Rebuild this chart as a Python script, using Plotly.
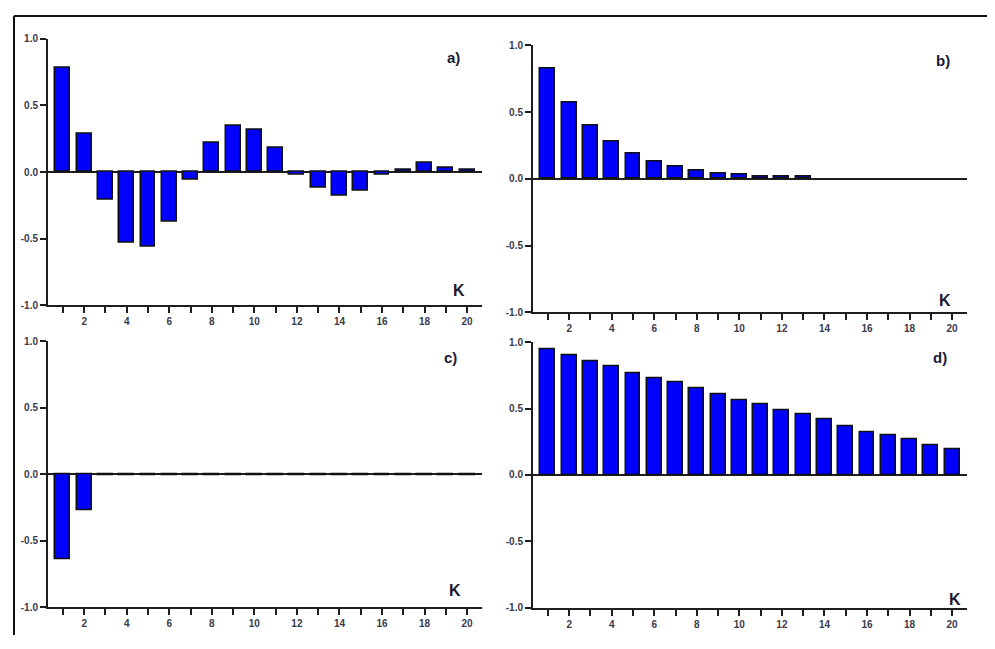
import plotly.graph_objects as go

lags = list(range(1, 21))

acf_a = [0.78, 0.29, -0.21, -0.53, -0.56, -0.37, -0.06, 0.22, 0.35, 0.32,
         0.18, -0.02, -0.12, -0.18, -0.14, -0.02, 0.015, 0.07, 0.03, 0.015]
acf_b = [0.83, 0.57, 0.40, 0.28, 0.19, 0.13, 0.09, 0.06, 0.04, 0.03,
         0.015, 0.015, 0.015, None, None, None, None, None, None, None]
acf_c = [-0.64, -0.27, -0.01, -0.01, -0.01, -0.01, -0.01, -0.01, -0.01, -0.01,
         -0.01, -0.01, -0.01, -0.01, -0.01, -0.01, -0.01, -0.01, -0.01, -0.01]
acf_d = [0.95, 0.90, 0.86, 0.82, 0.77, 0.73, 0.70, 0.65, 0.61, 0.56,
         0.53, 0.49, 0.46, 0.42, 0.37, 0.32, 0.30, 0.27, 0.22, 0.19]

panel_labels = ["a)", "b)", "c)", "d)"]
x_tick_vals = lags
x_tick_text = [str(k) if k % 2 == 0 else "" for k in lags]
y_tick_vals = [-1.0, -0.5, 0.0, 0.5, 1.0]
y_tick_text = ["-1.0", "-0.5", "0.0", "0.5", "1.0"]

# The page body has an 8px margin; work in page pixels and shift.
OFF = 8
W, H = 995 - 2 * OFF, 649 - 2 * OFF

def px_x(v):
    return (v - OFF) / W

def px_y(v):
    return 1 - (v - OFF) / H

# panel geometry in page pixels: (left, right, top, bottom)
panels = [
    (48, 482, 33.3, 305),
    (533, 967, 40, 312),
    (48, 482, 341.7, 612.7),
    (533, 967, 342.7, 613),
]
label_pos = [(453, 52), (943, 55), (450, 358), (940, 358)]
k_pos = [(459, 290), (945, 300), (455, 596), (955, 605)]

series = [acf_a, acf_b, acf_c, acf_d]

fig = go.Figure()
font_family = "Liberation Sans, Arial, sans-serif"
axis_color = "#1e1e1e"
tick_font = dict(family=font_family, size=10, color="#3a3a4a", weight="bold")

annotations = []
for i, (vals, geom) in enumerate(zip(series, panels)):
    n = "" if i == 0 else str(i + 1)
    fig.add_trace(go.Bar(
        x=lags, y=vals, width=0.7,
        marker=dict(color="#0000ff", line=dict(color="#111111", width=1.5)),
        xaxis="x" + n, yaxis="y" + n, showlegend=False,
    ))
    l, r, t, b = geom
    fig.layout["xaxis" + n] = dict(
        domain=[px_x(l), px_x(r)], range=[0.3, 20.7], anchor="y" + n,
        tickmode="array", tickvals=x_tick_vals, ticktext=x_tick_text,
        ticks="outside", ticklen=6, tickwidth=2, tickcolor=axis_color,
        showline=True, linecolor=axis_color, linewidth=2,
        showgrid=False, zeroline=False, fixedrange=True,
        tickfont=tick_font,
    )
    fig.layout["yaxis" + n] = dict(
        domain=[px_y(b), px_y(t)], range=[-1, 1], anchor="x" + n,
        tickmode="array", tickvals=y_tick_vals, ticktext=y_tick_text,
        ticks="outside", ticklen=6, tickwidth=2, tickcolor=axis_color,
        showline=True, linecolor=axis_color, linewidth=2,
        showgrid=False, zeroline=True, zerolinecolor=axis_color, zerolinewidth=2,
        fixedrange=True,
        tickfont=tick_font,
    )
    lx, ly = label_pos[i]
    annotations.append(dict(
        x=px_x(lx), y=px_y(ly), xref="paper", yref="paper",
        text="<b>" + panel_labels[i] + "</b>", showarrow=False,
        xanchor="center", yanchor="middle",
        font=dict(family=font_family, size=15, color="#1a1a33"),
    ))
    kx, ky = k_pos[i]
    annotations.append(dict(
        x=px_x(kx), y=px_y(ky), xref="paper", yref="paper",
        text="<b>K</b>", showarrow=False,
        xanchor="center", yanchor="middle",
        font=dict(family=font_family, size=16, color="#1a1a33"),
    ))

shapes = [
    dict(type="line", xref="paper", yref="paper",
         x0=px_x(14), x1=1.0, y0=px_y(10), y1=px_y(10),
         line=dict(color="#111111", width=2)),
    dict(type="line", xref="paper", yref="paper",
         x0=px_x(14), x1=px_x(14), y0=px_y(10), y1=0.0,
         line=dict(color="#111111", width=2)),
]

fig.update_layout(
    width=W, height=H,
    margin=dict(l=0, r=0, t=0, b=0),
    paper_bgcolor="white", plot_bgcolor="white",
    annotations=annotations, shapes=shapes,
    bargap=0,
)

fig.write_html("out.html")
